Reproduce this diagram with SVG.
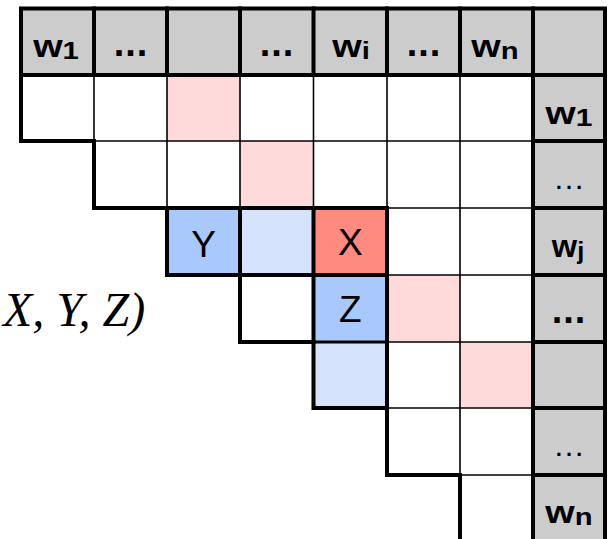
<svg xmlns="http://www.w3.org/2000/svg" width="612" height="539" viewBox="0 0 612 539">
<style>
.gray{fill:#cccccc}
.white{fill:#ffffff}
.pink{fill:#ffdada}
.red{fill:#ff8a80}
.blue{fill:#a9c8fc}
.lblue{fill:#d5e3fd}
.thin{stroke:#000;stroke-width:1.6;fill:none}
.thick{stroke:#000;stroke-width:4;fill:none;stroke-linecap:square}
.mid{stroke:#000;stroke-width:3;fill:none;stroke-linecap:square}
.lbl{font-family:"Liberation Sans",Arial,sans-serif;font-weight:bold;font-size:31px;fill:#000;text-anchor:middle}
.sub{font-size:24px}
.bdots{font-family:"Liberation Sans",Arial,sans-serif;font-weight:bold;font-size:38px;fill:#000;text-anchor:middle;letter-spacing:1px}
.dots{font-family:"Liberation Sans",Arial,sans-serif;font-size:32px;fill:#000;text-anchor:middle}
.letter{font-family:"Liberation Sans",Arial,sans-serif;font-size:37px;fill:#000;text-anchor:middle}
.math{font-family:"Liberation Serif","Times New Roman",serif;font-style:italic;font-size:48px;fill:#000}
</style>
<rect width="612" height="539" fill="#ffffff"/>

<!-- header row -->
<g id="header">
  <rect class="gray" x="21" y="8.5" width="584" height="66.5"/>
  <g id="h-w1"><text class="lbl" transform="translate(56,57) scale(1.22,1)">w<tspan class="sub" dy="2">1</tspan></text></g>
  <g id="h-dots1"><text class="bdots" x="131" y="56">...</text></g>
  <g id="h-empty"></g>
  <g id="h-dots2"><text class="bdots" x="277" y="56">...</text></g>
  <g id="h-wi"><text class="lbl" transform="translate(351,57) scale(1.22,1)">w<tspan class="sub" dy="2">i</tspan></text></g>
  <g id="h-dots3"><text class="bdots" x="424" y="56">...</text></g>
  <g id="h-wn"><text class="lbl" transform="translate(495,57) scale(1.22,1)">w<tspan class="sub" dy="2">n</tspan></text></g>
</g>

<!-- right label column -->
<g id="rowlabels">
  <rect class="gray" x="533" y="75" width="72" height="470"/>
  <g id="r-w1"><text class="lbl" transform="translate(569,124) scale(1.25,1)">w<tspan class="sub" dy="2">1</tspan></text></g>
  <g id="r-dots1"><text class="dots" x="569" y="189">…</text></g>
  <g id="r-wj"><text class="lbl" transform="translate(568,257) scale(1.05,1)">w<tspan class="sub" dy="2">j</tspan></text></g>
  <g id="r-dots2"><text class="bdots" x="569" y="323">...</text></g>
  <g id="r-dots3"><text class="dots" x="569" y="456">…</text></g>
  <g id="r-wn"><text class="lbl" transform="translate(569,523) scale(1.22,1)">w<tspan class="sub" dy="2">n</tspan></text></g>
</g>

<!-- matrix cells -->
<g id="cells">
  <rect class="white" x="21" y="75" width="512" height="66"/>
  <rect class="pink" x="167" y="75" width="73" height="66"/>
  <rect class="white" x="94" y="141" width="439" height="67"/>
  <rect class="pink" x="240" y="141" width="73.5" height="67"/>
  <rect class="white" x="167" y="208" width="366" height="67"/>
  <rect class="lblue" x="240" y="208" width="73.5" height="67"/>
  <rect class="white" x="240" y="275" width="293" height="67"/>
  <rect class="pink" x="387" y="275" width="73" height="67"/>
  <rect class="lblue" x="313.5" y="342" width="73.5" height="66"/>
  <rect class="white" x="387" y="342" width="146" height="66"/>
  <rect class="pink" x="460" y="342" width="73" height="66"/>
  <rect class="white" x="387" y="408" width="146" height="67"/>
  <rect class="white" x="460" y="475" width="73" height="70"/>
</g>
<g id="cell-Y">
  <rect class="blue" x="167" y="208" width="73" height="67"/>
  <text class="letter" x="203.5" y="257">Y</text>
</g>
<g id="cell-X">
  <rect class="red" x="313.5" y="208" width="73.5" height="67"/>
  <text class="letter" x="350.25" y="255">X</text>
</g>
<g id="cell-Z">
  <rect class="blue" x="313.5" y="275" width="73.5" height="67"/>
  <text class="letter" x="350.25" y="322">Z</text>
</g>

<!-- grid lines -->
<g id="connectors">
  <g class="thin">
    <path d="M94 75V141M167 75V208M240 75V275M313.5 75V342M387 75V408M460 75V475"/>
    <path d="M94 141H533M167 208H533M240 275H533M313.5 342H533M387 408H533M460 475H533"/>
  </g>
  <g class="thick">
    <path d="M21 8.5H605V545M21 8.5V141H94V208H167V275H240V342H313.5V408H387V475H460V545"/>
    <path d="M21 75H605M94 8.5V75M167 8.5V75M240 8.5V75M313.5 8.5V75M387 8.5V75M460 8.5V75M533 8.5V545"/>
    <path d="M533 141H605M533 208H605M533 275H605M533 342H605M533 408H605M533 475H605"/>
    <path d="M167 208H387V275H167M240 208V275M313.5 208V275M387 275V408M313.5 275V342"/>
  </g>
  <path class="mid" d="M313.5 342H387"/>
</g>

<g id="formula">
  <text class="math" x="3" y="326">X, Y, Z)</text>
</g>
</svg>
